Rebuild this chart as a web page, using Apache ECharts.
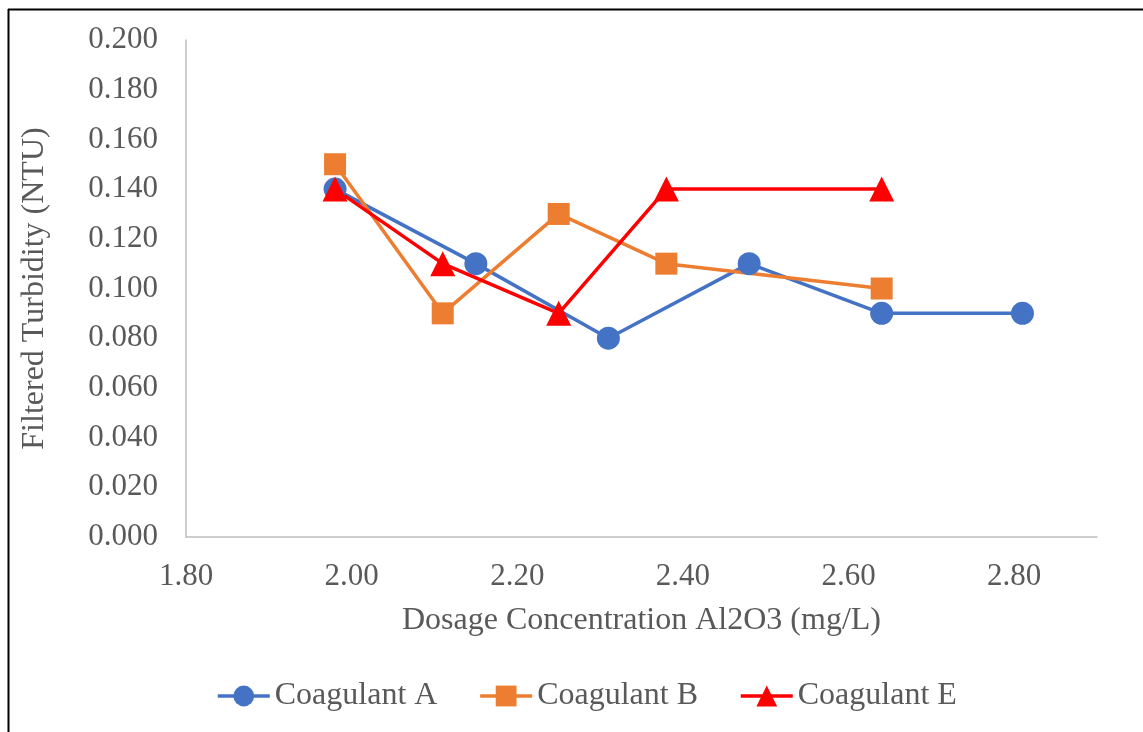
<!DOCTYPE html>
<html>
<head>
<meta charset="utf-8">
<script src="https://cdn.jsdelivr.net/npm/echarts@6/dist/echarts.min.js"></script>
<style>html,body{margin:0;padding:0;background:#fff;}#chart{width:1143px;height:732px;}</style>
</head>
<body>
<div id="chart"></div>
<script>
const seriesNames = ['Coagulant A', 'Coagulant B', 'Coagulant E'];
const doseA = [1.98, 2.15, 2.31, 2.48, 2.64, 2.81];
const turbA = [0.140, 0.110, 0.080, 0.110, 0.090, 0.090];
const doseB = [1.98, 2.11, 2.25, 2.38, 2.64];
const turbB = [0.150, 0.090, 0.130, 0.110, 0.100];
const doseE = [1.98, 2.11, 2.25, 2.38, 2.64];
const turbE = [0.140, 0.110, 0.090, 0.140, 0.140];
const xTitle = 'Dosage Concentration Al2O3 (mg/L)';
const yTitle = 'Filtered Turbidity (NTU)';

const zip = (xs, ys) => xs.map((x, i) => [x, ys[i]]);
const font = 'Liberation Serif, Times New Roman, serif';
const textColor = '#595959';
const chart = echarts.init(document.getElementById('chart'));
chart.setOption({
  animation: false,
  backgroundColor: '#fff',
  textStyle: { fontFamily: font },
  grid: { left: 186, top: 40, right: 46, bottom: 195, containLabel: false },
  xAxis: {
    type: 'value', min: 1.8, max: 2.9, interval: 0.2,
    name: xTitle, nameLocation: 'middle', nameGap: 68,
    nameTextStyle: { fontFamily: font, fontSize: 32, color: textColor },
    axisLine: { show: true, onZero: false, lineStyle: { color: '#bfbfbf', width: 1.5 } },
    axisTick: { show: false },
    splitLine: { show: false },
    axisLabel: { fontFamily: font, fontSize: 31, color: textColor, margin: 24, showMaxLabel: false,
      formatter: v => v.toFixed(2) }
  },
  yAxis: {
    type: 'value', min: 0, max: 0.2, interval: 0.02,
    name: yTitle, nameLocation: 'middle', nameGap: 135, nameRotate: 90,
    nameTextStyle: { fontFamily: font, fontSize: 32, color: textColor },
    axisLine: { show: true, lineStyle: { color: '#bfbfbf', width: 1.5 } },
    axisTick: { show: false },
    splitLine: { show: false },
    axisLabel: { fontFamily: font, fontSize: 31, color: textColor, margin: 28,
      formatter: v => v.toFixed(3) }
  },
  legend: {
    bottom: 15, left: 211, itemWidth: 52, itemHeight: 26, itemGap: 41,
    lineStyle: { width: 3.5 },
    textStyle: { fontFamily: font, fontSize: 32, color: textColor },
    data: seriesNames
  },
  graphic: [
    { type: 'line', shape: { x1: 8.5, y1: 9, x2: 8.5, y2: 732 }, style: { stroke: '#000', lineWidth: 2 } },
    { type: 'line', shape: { x1: 8, y1: 9.5, x2: 1143, y2: 9.5 }, style: { stroke: '#000', lineWidth: 2 } }
  ],
  series: [
    { name: seriesNames[0], type: 'line', data: zip(doseA, turbA), symbol: 'circle', symbolSize: 23,
      color: '#4472C4', lineStyle: { width: 3.5 } },
    { name: seriesNames[1], type: 'line', data: zip(doseB, turbB), symbol: 'rect', symbolSize: 22,
      color: '#ED7D31', lineStyle: { width: 3.5 } },
    { name: seriesNames[2], type: 'line', data: zip(doseE, turbE), symbol: 'triangle', symbolSize: 25,
      color: '#FF0000', lineStyle: { width: 3.5 } }
  ]
});
</script>
</body>
</html>
